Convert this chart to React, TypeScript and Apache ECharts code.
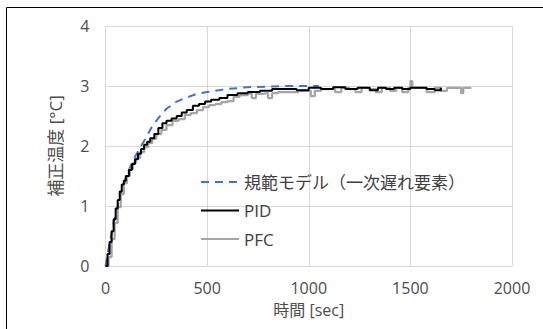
import { useEffect, useRef } from 'react';
import * as echarts from 'echarts';

const seriesNames = ['規範モデル（一次遅れ要素）', 'PID', 'PFC'];
const xTitle = '時間 [sec]';
const yTitle = '補正温度 [°C]';

const modelTime = [0, 20, 40, 60, 80, 100, 125, 150, 175, 200, 225, 250, 275, 300, 350, 400, 450, 500, 600, 700, 800, 900, 1000, 1050];
const modelValue = [0, 0.38, 0.72, 1.0, 1.25, 1.47, 1.68, 1.85, 2.0, 2.14, 2.3, 2.42, 2.53, 2.62, 2.74, 2.81, 2.87, 2.9, 2.95, 2.98, 2.99, 3.0, 3.0, 3.0];

const pidTime = [0, 10, 20, 30, 40, 50, 60, 70, 80, 90, 100, 115, 130, 145, 160, 175, 190, 205, 220, 240, 260, 280, 300, 325, 350, 375, 400, 430, 460, 490, 520, 560, 600, 650, 700, 760, 820, 880, 940, 1000, 1060, 1120, 1180, 1240, 1300, 1340, 1380, 1420, 1460, 1500, 1540, 1580, 1620, 1650];
const pidValue = [0, 0.2, 0.4, 0.58, 0.78, 0.96, 1.1, 1.24, 1.36, 1.42, 1.5, 1.6, 1.7, 1.78, 1.87, 1.95, 2.02, 2.07, 2.13, 2.2, 2.3, 2.38, 2.42, 2.46, 2.5, 2.56, 2.6, 2.67, 2.7, 2.74, 2.77, 2.8, 2.85, 2.88, 2.9, 2.92, 2.95, 2.95, 2.93, 2.97, 2.95, 2.98, 2.95, 2.97, 2.93, 2.97, 2.95, 2.97, 2.95, 2.97, 2.97, 2.95, 2.93, 2.97];

const pfcTime = [0, 15, 30, 45, 60, 75, 90, 105, 120, 135, 150, 170, 190, 210, 230, 250, 275, 300, 330, 360, 390, 420, 450, 480, 510, 540, 570, 600, 630, 660, 700, 720, 740, 770, 800, 820, 850, 900, 950, 1010, 1030, 1060, 1100, 1130, 1160, 1200, 1230, 1260, 1300, 1330, 1360, 1400, 1430, 1460, 1490, 1500, 1510, 1540, 1580, 1620, 1650, 1680, 1720, 1750, 1760, 1800];
const pfcValue = [0, 0.15, 0.45, 0.72, 0.98, 1.2, 1.38, 1.5, 1.62, 1.72, 1.8, 1.9, 1.98, 2.05, 2.12, 2.2, 2.27, 2.35, 2.42, 2.45, 2.52, 2.55, 2.6, 2.65, 2.68, 2.7, 2.73, 2.75, 2.82, 2.85, 2.87, 2.8, 2.87, 2.88, 2.8, 2.88, 2.9, 2.9, 2.92, 2.83, 2.92, 2.95, 2.95, 2.9, 2.97, 2.95, 2.9, 2.97, 2.95, 2.9, 2.97, 2.92, 2.97, 2.9, 2.97, 3.08, 2.97, 2.97, 2.9, 2.97, 2.92, 2.97, 2.97, 2.88, 2.97, 2.97];

const pairs = (t: number[], v: number[]) => t.map((x, i) => [x, v[i]]);

const FONT = "'Open Sans', 'Noto Sans CJK JP', sans-serif";
const TEXT = '#4d4d4d';

export default function App() {
  const ref = useRef<HTMLDivElement>(null);
  useEffect(() => {
    if (!ref.current) return;
    const chart = echarts.init(ref.current, undefined, { renderer: 'svg' });
    chart.setOption({
      animation: false,
      textStyle: { fontFamily: FONT },
      grid: { left: 105.5, right: 31, top: 26, bottom: 63 },
      graphic: [
        {
          type: 'line',
          silent: true,
          shape: { x1: 6.5, y1: 7.5, x2: 543, y2: 7.5 },
          style: { stroke: '#000', lineWidth: 1 },
        },
        {
          type: 'line',
          silent: true,
          shape: { x1: 6.5, y1: 7.5, x2: 6.5, y2: 329 },
          style: { stroke: '#000', lineWidth: 1 },
        },
      ],
      legend: {
        orient: 'vertical',
        left: 195,
        top: 167,
        itemWidth: 38,
        itemHeight: 20,
        itemGap: 8.5,
        itemStyle: { opacity: 0 },
        textStyle: { fontSize: 17, color: '#404040', lineHeight: 20, fontFamily: FONT },
        data: seriesNames,
      },
      xAxis: {
        type: 'value',
        min: 0,
        max: 2000,
        interval: 500,
        axisLine: { show: true, lineStyle: { color: '#d9d9d9' } },
        axisTick: { show: false },
        splitLine: { show: true, lineStyle: { color: '#d9d9d9' } },
        axisLabel: { margin: 14, color: TEXT, fontSize: 16, fontFamily: FONT, formatter: (v: number) => String(v) },
        name: xTitle,
        nameLocation: 'middle',
        nameGap: 36,
        nameTextStyle: { color: TEXT, fontSize: 16, fontFamily: FONT },
      },
      yAxis: {
        type: 'value',
        min: 0,
        max: 4,
        interval: 1,
        axisLine: { show: false },
        axisTick: { show: false },
        splitLine: { show: true, lineStyle: { color: '#d9d9d9' } },
        axisLabel: { margin: 16, color: TEXT, fontSize: 16, fontFamily: FONT },
        name: yTitle,
        nameLocation: 'middle',
        nameGap: 42,
        nameRotate: 90,
        nameTextStyle: { color: TEXT, fontSize: 17, fontFamily: FONT },
      },
      series: [
        {
          name: seriesNames[0],
          type: 'line',
          symbol: 'none',
          showSymbol: false,
          data: pairs(modelTime, modelValue),
          lineStyle: { color: '#4472c4', width: 2, type: [8, 6] },
          itemStyle: { color: '#4472c4' },
          z: 2,
        },
        {
          name: seriesNames[1],
          type: 'line',
          symbol: 'none',
          showSymbol: false,
          step: 'end',
          data: pairs(pidTime, pidValue),
          lineStyle: { color: '#000000', width: 2 },
          itemStyle: { color: '#000000' },
          z: 3,
        },
        {
          name: seriesNames[2],
          type: 'line',
          symbol: 'none',
          showSymbol: false,
          step: 'end',
          data: pairs(pfcTime, pfcValue),
          lineStyle: { color: '#a5a5a5', width: 2.25 },
          itemStyle: { color: '#a5a5a5' },
          z: 2.5,
        },
      ],
    });
    return () => chart.dispose();
  }, []);
  return <div ref={ref} style={{ position: 'fixed', left: 0, top: 0, width: 543, height: 329, background: '#fff' }} />;
}
